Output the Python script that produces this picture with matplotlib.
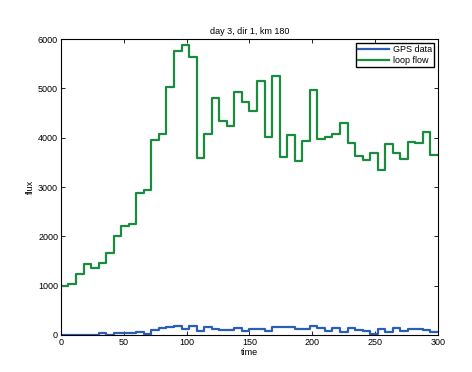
import matplotlib
matplotlib.use("Agg")
import matplotlib.pyplot as plt
import numpy as np

plt.rcParams['font.family'] = ['Liberation Sans', 'DejaVu Sans']

step_starts = list(range(0, 300, 6))
loop_flow = [1000, 1040, 1243, 1440, 1352, 1460, 1656, 2000, 2203, 2250,
             2872, 2940, 3953, 4075, 5033, 5757, 5878, 5642, 3581, 4068,
             4810, 4338, 4243, 4925, 4717, 4540, 5149, 4020, 5257, 3615,
             4054, 3534, 3939, 4967, 3973, 4007, 4068, 4291, 3899, 3629,
             3547, 3696, 3345, 3872, 3683, 3568, 3919, 3885, 4108, 3649]
gps_data = [5, 5, 5, 5, 5, 35, 5, 47, 35, 47,
            54, 20, 101, 140, 155, 175, 120, 190, 90, 170,
            120, 110, 105, 150, 80, 122, 122, 90, 169, 160,
            165, 120, 130, 189, 135, 88, 149, 60, 149, 110,
            80, 20, 122, 54, 149, 90, 120, 130, 100, 60]

x_ticks = [0, 50, 100, 150, 200, 250, 300]
y_ticks = [0, 1000, 2000, 3000, 4000, 5000, 6000]

t = step_starts + [300]
gps = gps_data + [gps_data[-1]]
loop = loop_flow + [loop_flow[-1]]

fig = plt.figure(figsize=(4.72, 3.72), dpi=100)
ax = fig.add_axes([0.129, 0.0995, 0.799, 0.7955])
ax.plot(t, gps, drawstyle="steps-post", color="#2b5fb5", lw=1.6, label="GPS data")
ax.plot(t, loop, drawstyle="steps-post", color="#1b8c3f", lw=1.6, label="loop flow")

ax.set_xlim(0, 300)
ax.set_ylim(0, 6000)
ax.set_xticks(x_ticks)
ax.set_yticks(y_ticks)
ax.tick_params(direction="in", length=3, width=0.6, labelsize=6.5, top=True, right=True, pad=2)
for s in ax.spines.values():
    s.set_linewidth(0.8)
ax.set_title("day 3, dir 1, km 180", fontsize=6.5, pad=4)
ax.set_xlabel("time", fontsize=6.5, labelpad=1)
ax.set_ylabel("flux", fontsize=6.5, labelpad=2)
leg = ax.legend(loc="upper right", fontsize=6.5, fancybox=False, edgecolor="black",
                framealpha=1, borderaxespad=0.4, handlelength=3.4, borderpad=0.3,
                labelspacing=0.15, handletextpad=0.4)
leg.get_frame().set_linewidth(1.0)

fig.savefig("out.png", dpi=100)
